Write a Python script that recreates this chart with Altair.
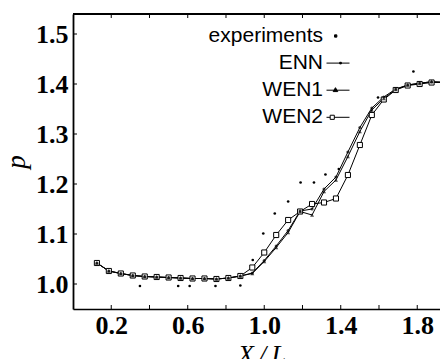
import altair as alt
import pandas as pd

# ---- data ----
x_grid = [0.125, 0.1875, 0.25, 0.3125, 0.375, 0.4375, 0.5, 0.5625, 0.625, 0.6875,
          0.75, 0.8125, 0.875, 0.9375, 1.0, 1.0625, 1.125, 1.1875, 1.25, 1.3125,
          1.375, 1.4375, 1.5, 1.5625, 1.625, 1.6875, 1.75, 1.8125, 1.875, 1.9375]

enn_p = [1.042, 1.026, 1.021, 1.017, 1.015, 1.014, 1.013, 1.012, 1.011, 1.011,
         1.010, 1.012, 1.016, 1.022, 1.047, 1.076, 1.107, 1.146, 1.150, 1.190,
         1.214, 1.264, 1.313, 1.352, 1.374, 1.390, 1.398, 1.402, 1.404, 1.404]

wen1_p = [1.042, 1.026, 1.021, 1.017, 1.015, 1.014, 1.013, 1.012, 1.011, 1.011,
          1.010, 1.012, 1.016, 1.021, 1.045, 1.073, 1.103, 1.145, 1.138, 1.185,
          1.208, 1.255, 1.305, 1.348, 1.371, 1.389, 1.398, 1.401, 1.405, 1.403]

wen2_p = [1.042, 1.026, 1.021, 1.017, 1.015, 1.014, 1.013, 1.012, 1.011, 1.011,
          1.010, 1.012, 1.016, 1.033, 1.063, 1.098, 1.128, 1.145, 1.160, 1.163,
          1.171, 1.218, 1.278, 1.338, 1.369, 1.388, 1.397, 1.400, 1.403, 1.403]

exp_x = [0.35, 0.55, 0.61, 0.745, 0.875, 0.94, 0.995, 1.055, 1.125, 1.19, 1.26,
         1.32, 1.39, 1.595, 1.78]
exp_p = [0.996, 0.996, 0.996, 0.996, 0.997, 1.048, 1.101, 1.141, 1.165, 1.203,
         1.203, 1.219, 1.23, 1.373, 1.425]

series_names = ["experiments", "ENN", "WEN1", "WEN2"]
x_label_values = [0.2, 0.6, 1.0, 1.4, 1.8]
x_tick_values = [0.2, 0.4, 0.6, 0.8, 1.0, 1.2, 1.4, 1.6, 1.8]
y_tick_values = [1.0, 1.1, 1.2, 1.3, 1.4, 1.5]

# ---- tables ----
curves = pd.concat([
    pd.DataFrame({"x": x_grid, "y": enn_p, "series": "ENN"}),
    pd.DataFrame({"x": x_grid, "y": wen1_p, "series": "WEN1"}),
    pd.DataFrame({"x": x_grid, "y": wen2_p, "series": "WEN2"}),
], ignore_index=True)
exp_df = pd.DataFrame({"x": exp_x, "y": exp_p})
xt_df = pd.DataFrame({"x": x_tick_values})
yt_df = pd.DataFrame({"y": y_tick_values})
leg_df = pd.DataFrame({"series": series_names})

W, H = 367, 295
SERIF = "Liberation Serif"

xs = alt.Scale(domain=[0.0, 1.919], nice=False, zero=False)
ys = alt.Scale(domain=[0.95, 1.54], nice=False, zero=False)

x_axis = alt.Axis(values=x_label_values, format=".1f", ticks=False, tickSize=0,
                  domain=True, domainColor="black", domainWidth=1.5,
                  grid=False, labelFlush=False, labelOverlap=False,
                  labelFont=SERIF, labelFontWeight="bold", labelFontSize=26,
                  labelColor="black", labelPadding=3,
                  title="X\u2009/\u2009L", titleFont=SERIF, titleFontStyle="italic",
                  titleFontWeight="normal", titleFontSize=26, titleColor="black",
                  titleX=188.5, titleY=53, titleAlign="center",
                  titleBaseline="alphabetic")
y_axis = alt.Axis(values=y_tick_values, format=".1f", ticks=False, tickSize=0,
                  domain=True, domainColor="black", domainWidth=1.8,
                  grid=False, labelFlush=False, labelOverlap=False,
                  labelFont=SERIF, labelFontWeight="bold", labelFontSize=26,
                  labelColor="black", labelPadding=5,
                  title="p", titleFont=SERIF, titleFontStyle="italic",
                  titleFontWeight="normal", titleFontSize=27, titleColor="black",
                  titleX=-49, titleY=147.5, titleAngle=270, titleAlign="center",
                  titleBaseline="alphabetic")

X = alt.X("x:Q", scale=xs, axis=x_axis)
Y = alt.Y("y:Q", scale=ys, axis=y_axis)

lines = alt.Chart(curves).mark_line(color="black", strokeWidth=1).encode(
    x=X, y=Y, detail="series:N")

wen2_pts = alt.Chart(curves).transform_filter("datum.series == 'WEN2'").mark_point(
    shape="square", filled=True, fill="white", stroke="black", strokeWidth=1,
    size=26, opacity=1).encode(x=X, y=Y)
wen1_pts = alt.Chart(curves).transform_filter("datum.series == 'WEN1'").mark_point(
    shape="triangle-up", filled=True, color="black", size=16).encode(x=X, y=Y)
enn_pts = alt.Chart(curves).transform_filter("datum.series == 'ENN'").mark_point(
    shape="circle", filled=True, color="black", size=10).encode(x=X, y=Y)
exp_pts = alt.Chart(exp_df).mark_point(
    shape="circle", filled=True, color="black", size=7, opacity=1).encode(x=X, y=Y)

# frame top edge and inward ticks
top_edge = alt.Chart(xt_df).mark_rule(color="black", strokeWidth=1.5).encode(
    x=alt.value(0), x2=alt.value(W), y=alt.value(0))
tick_bottom = alt.Chart(xt_df).mark_rule(color="black", strokeWidth=1).encode(
    x=X, y=alt.value(H), y2=alt.value(H - 4))
tick_top = alt.Chart(xt_df).mark_rule(color="black", strokeWidth=1).encode(
    x=X, y=alt.value(0), y2=alt.value(4))
tick_left = alt.Chart(yt_df).mark_rule(color="black", strokeWidth=1).encode(
    y=Y, x=alt.value(0), x2=alt.value(4))

# legend (labels left of symbols)
legend_paths = [
    "M-0.3,-0.1h0.2v0.2h-0.2z",
    "M-1,0H1M0.15,-0.07h0.14v0.14h-0.14z",
    "M-1,0H1M-0.22,-0.22L-0.02,0.12L-0.42,0.12z",
    "M-1,0H-0.68M-0.32,0H1M-0.68,-0.18H-0.32V0.18H-0.68z",
]
legend_fills = ["black", "black", "black", "white"]
legend_strokes = ["black", "black", "black", "black"]
leg = alt.Legend(title=None, orient="none", legendX=253, legendY=10, padding=0,
                 symbolSize=529, symbolOpacity=1, symbolStrokeColor="black",
                 symbolStrokeWidth=1, symbolOffset=0, labelAlign="right",
                 labelOffset=alt.ExprRef(expr="-27"),
                 labelFont="Liberation Sans", labelFontSize=21,
                 labelColor="black", rowPadding=5.1, labelLimit=300)
legend_layer = alt.Chart(leg_df).transform_filter("false").mark_point(
    filled=False, strokeWidth=1).encode(
    shape=alt.Shape("series:N", scale=alt.Scale(domain=series_names, range=legend_paths),
                    legend=leg),
    fill=alt.Fill("series:N", scale=alt.Scale(domain=series_names, range=legend_fills),
                  legend=leg),
    stroke=alt.Stroke("series:N", scale=alt.Scale(domain=series_names, range=legend_strokes),
                      legend=leg),
)

chart = alt.layer(
    lines, wen2_pts, wen1_pts, enn_pts, exp_pts,
    top_edge, tick_bottom, tick_top, tick_left, legend_layer
).properties(
    width=W, height=H,
    autosize=alt.AutoSizeParams(type="none"),
    padding={"left": 65, "top": 6, "right": 0, "bottom": 52},
).configure_view(stroke=None).configure(background="white")

chart.save("out.html", embed_options={"renderer": "svg", "actions": False})
